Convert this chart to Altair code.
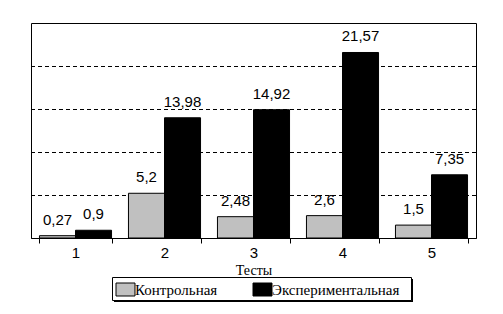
import altair as alt
import pandas as pd

tests = ["1", "2", "3", "4", "5"]
groups = ["Контрольная", "Экспериментальная"]
control = [0.27, 5.2, 2.48, 2.6, 1.5]
experimental = [0.9, 13.98, 14.92, 21.57, 7.35]
grid_values = [5, 10, 15, 20]
tick_values = [0, 2.5, 5, 7.5, 10, 12.5, 15, 17.5, 20, 22.5, 25]
colors = ["#c0c0c0", "#000000"]

SERIF = "Liberation Serif"
SANS = "Liberation Sans"

rows = []
for t, c, e in zip(tests, control, experimental):
    rows.append({"test": t, "group": groups[0], "value": c, "label": str(c).replace(".", ",")})
    rows.append({"test": t, "group": groups[1], "value": e, "label": str(e).replace(".", ",")})
df = pd.DataFrame(rows)
grid_df = pd.DataFrame({"v": grid_values})

x = alt.X("test:N", sort=tests,
          scale=alt.Scale(paddingInner=0.19, paddingOuter=0.095),
          axis=alt.Axis(title="Тесты", labelAngle=0, tickBand="extent", tickSize=5,
                        labelFont=SANS, labelFontSize=15, labelPadding=2,
                        titleFont=SERIF, titleFontSize=14, titleFontWeight="normal",
                        titlePadding=3, grid=False))
xo = alt.XOffset("group:N", sort=groups, scale=alt.Scale(paddingInner=0, paddingOuter=0))
y = alt.Y("value:Q", scale=alt.Scale(domain=[0, 25], nice=False),
          axis=alt.Axis(values=tick_values, labels=False, grid=False, title=None, tickSize=5))

grid = alt.Chart(grid_df).mark_rule(color="black", strokeWidth=1, strokeDash=[4, 3], yOffset=0.5).encode(
    y=alt.Y("v:Q", scale=alt.Scale(domain=[0, 25], nice=False), axis=None)
)

deco = pd.DataFrame({"a": [0]})
shadow = alt.Chart(deco).mark_rect(color="black").encode(
    x=alt.value(83), x2=alt.value(382), y=alt.value(256), y2=alt.value(279)
)
frame = alt.Chart(deco).mark_rect(fill="white", stroke="black", strokeWidth=1).encode(
    x=alt.value(81.5), x2=alt.value(380.5), y=alt.value(254.5), y2=alt.value(277.5)
)

bars = alt.Chart(df).mark_bar(stroke="black", strokeWidth=1).encode(
    x=x, xOffset=xo, y=y,
    color=alt.Color("group:N", sort=groups,
                    scale=alt.Scale(domain=groups, range=colors),
                    legend=alt.Legend(orient="none", legendX=81, legendY=253, direction="horizontal",
                                      title=None, symbolType="M-1.46,-1H1.46V1H-1.46Z", symbolSize=169,
                                      symbolStrokeColor="black", symbolStrokeWidth=1,
                                      labelFont=SERIF, labelFontSize=15, labelColor="black",
                                      labelOffset=2, padding=6, columnPadding=33))
)

labels = alt.Chart(df).mark_text(dy=-11, baseline="alphabetic", font=SANS,
                                 fontSize=15, color="black").encode(
    x=x, xOffset=xo, y=y, text="label:N"
)

chart = alt.layer(grid, shadow, frame, bars, labels).properties(
    width=445, height=215,
    padding={"left": 31, "top": 23, "right": 27, "bottom": 76},
    autosize=alt.AutoSizeParams(type="none"),
    background="white",
).configure_view(stroke="black", strokeWidth=1).configure_axis(
    domainColor="black", tickColor="black", labelColor="black", titleColor="black"
).configure_legend(labelFont=SERIF, labelFontSize=15)

chart.save("out.html", embed_options={"renderer": "svg", "actions": False})
